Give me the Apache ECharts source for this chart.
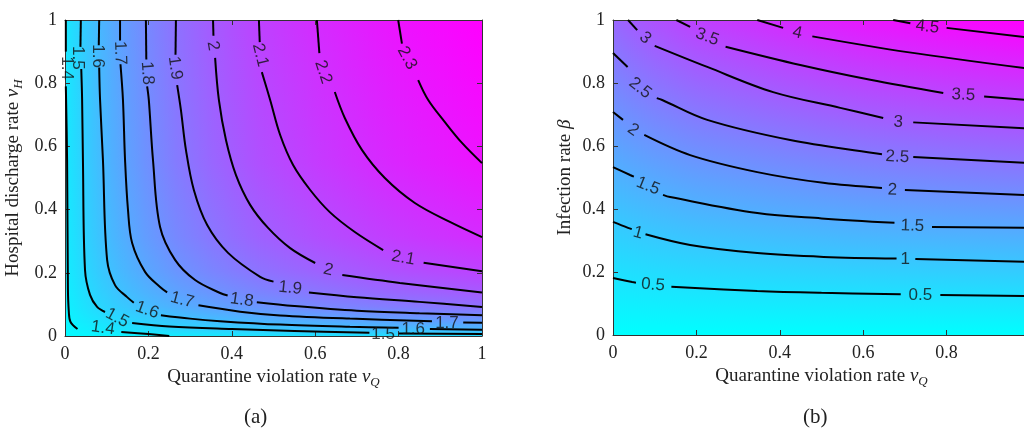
<!DOCTYPE html>
<html>
<head>
<meta charset="utf-8">
<script src="https://cdn.jsdelivr.net/npm/echarts@6/dist/echarts.min.js"></script>
<style>
  html, body { margin: 0; padding: 0; background: #fff; overflow: hidden; }
  #main { width: 1024px; height: 435px; }
</style>
</head>
<body>
<div id="main"></div>
<script>
// ---- panel (a): R0 vs quarantine violation rate / hospital discharge rate ----
// each contour = list of segments (gaps are where the inline labels sit)
var a14 = [[[0.002,1],[0.002,0.9]],
           [[0.002,0.79],[0.005,0.557],[0.007,0.15],[0.009,0.08],[0.013,0.045],[0.03,0.022]],
           [[0.135,0.013],[0.2,0.006],[0.25,0]]];
var a15 = [[[0.038,1],[0.037,0.915]],
           [[0.039,0.845],[0.041,0.75],[0.043,0.557],[0.048,0.209],[0.060,0.130],[0.077,0.092],[0.096,0.076]],
           [[0.161,0.041],[0.25,0.03],[0.4,0.022],[0.55,0.016],[0.73,0.01]],
           [[0.80,0.008],[1,0.006]]];
var a16 = [[[0.082,1],[0.081,0.92]],
           [[0.082,0.85],[0.084,0.75],[0.091,0.557],[0.101,0.241],[0.120,0.161],[0.149,0.123],[0.165,0.105]],
           [[0.23,0.066],[0.3,0.055],[0.372,0.047],[0.516,0.036],[0.683,0.029],[0.80,0.026]],
           [[0.875,0.022],[1,0.02]]];
var a17 = [[[0.132,1],[0.132,0.935]],
           [[0.133,0.86],[0.139,0.747],[0.144,0.557],[0.151,0.4],[0.161,0.294],[0.192,0.203],[0.228,0.155],[0.245,0.138]],
           [[0.32,0.097],[0.42,0.077],[0.516,0.065],[0.683,0.055],[0.88,0.047]],
           [[0.955,0.043],[1,0.042]]];
var a18 = [[[0.194,1],[0.195,0.875]],
           [[0.197,0.79],[0.201,0.747],[0.211,0.557],[0.228,0.345],[0.264,0.241],[0.312,0.177],[0.372,0.136],[0.39,0.128]],
           [[0.46,0.107],[0.55,0.095],[0.7,0.08],[0.85,0.072],[1,0.066]]];
var a19 = [[[0.266,1],[0.265,0.89]],
           [[0.269,0.794],[0.278,0.715],[0.290,0.589],[0.309,0.462],[0.341,0.351],[0.391,0.263],[0.468,0.187],[0.50,0.172]],
           [[0.585,0.138],[0.7,0.123],[0.85,0.108],[1,0.092]]];
var a20 = [[[0.355,1],[0.356,0.95]],
           [[0.360,0.880],[0.369,0.747],[0.386,0.620],[0.410,0.509],[0.444,0.415],[0.487,0.342],[0.540,0.278],[0.600,0.231]],
           [[0.665,0.193],[0.803,0.168],[1,0.138]]];
var a21 = [[[0.465,1],[0.467,0.93]],
           [[0.472,0.835],[0.492,0.747],[0.516,0.636],[0.547,0.541],[0.588,0.462],[0.635,0.392],[0.695,0.329],[0.763,0.272]],
           [[0.86,0.232],[1,0.205]]];
var a22 = [[[0.604,1],[0.61,0.895]],
           [[0.647,0.772],[0.671,0.690],[0.712,0.589],[0.767,0.5],[0.839,0.421],[0.923,0.361],[1,0.313]]];
var a23 = [[[0.799,1],[0.808,0.925]],
           [[0.847,0.810],[0.871,0.747],[0.911,0.677],[0.952,0.611],[1,0.547]]];
var aLevels = [1.4, 1.5, 1.6, 1.7, 1.8, 1.9, 2.0, 2.1, 2.2, 2.3];
var aContours = [a14, a15, a16, a17, a18, a19, a20, a21, a22, a23];
var aMin = 1.3, aMax = 2.38, aCornerBR = 1.45;   // colour range of panel (a)

// label: x, y, text, angle
var aLabels = [
  [0.003,0.848,'1.4',-90],[0.031,0.880,'1.5',-90],[0.079,0.886,'1.6',-90],[0.132,0.896,'1.7',-88],
  [0.197,0.832,'1.8',-86],[0.264,0.848,'1.9',-82],[0.355,0.918,'2',-80],[0.468,0.889,'2.1',-76],
  [0.619,0.835,'2.2',-72],[0.820,0.880,'2.3',-62],
  [0.091,0.025,'1.4',-8],[0.125,0.057,'1.5',-28],[0.197,0.082,'1.6',-20],[0.281,0.114,'1.7',-15],
  [0.424,0.114,'1.8',-8],[0.540,0.152,'1.9',-6],[0.631,0.209,'2',-14],[0.811,0.247,'2.1',-10],
  [0.763,0.006,'1.5',0],[0.835,0.022,'1.6',0],[0.916,0.041,'1.7',0]
];

// ---- panel (b): R0 vs quarantine violation rate / infection rate ----
var b05 = [[[0,0.181],[0.046,0.168],[0.055,0.166]],
           [[0.14,0.153],[0.346,0.140],[0.5,0.134],[0.69,0.129]],
           [[0.785,0.127],[1,0.124]]];
var b10 = [[[0,0.359],[0.036,0.340],[0.045,0.336]],
           [[0.078,0.32],[0.185,0.286],[0.346,0.260],[0.505,0.248],[0.68,0.243]],
           [[0.725,0.241],[1,0.232]]];
var b15 = [[[0,0.533],[0.041,0.508],[0.05,0.503]],
           [[0.12,0.445],[0.137,0.438],[0.346,0.387],[0.5,0.37],[0.675,0.356]],
           [[0.765,0.343],[1,0.34]]];
var b20 = [[[0,0.708],[0.024,0.683]],
           [[0.075,0.635],[0.185,0.571],[0.346,0.517],[0.504,0.483],[0.645,0.467]],
           [[0.7,0.460],[1,0.444]]];
var b25 = [[[0,0.895],[0.035,0.851]],
           [[0.105,0.752],[0.118,0.746],[0.226,0.683],[0.425,0.619],[0.624,0.578],[0.645,0.574]],
           [[0.72,0.565],[1,0.546]]];
var b30 = [[[0.036,1],[0.058,0.968]],
           [[0.1,0.918],[0.226,0.851],[0.384,0.771],[0.545,0.721],[0.648,0.689]],
           [[0.72,0.675],[1,0.655]]];
var b35 = [[[0.152,1],[0.185,0.978]],
           [[0.27,0.915],[0.449,0.857],[0.617,0.81],[0.792,0.768]],
           [[0.89,0.757],[1,0.745]]];
var b40 = [[[0.346,1],[0.408,0.975]],
           [[0.478,0.948],[0.706,0.898],[1,0.845]]];
var b45 = [[[0.672,1],[0.713,0.99]],
           [[0.80,0.975],[1,0.944]]];
var bContours = [b05, b10, b15, b20, b25, b30, b35, b40, b45];
var bTopRow = [[0,2.8],[0.1,3.2],[0.2,3.5],[0.4,3.9],[0.6,4.25],[0.8,4.5],[1,4.7]];
var bMax = 4.7;

var bLabels = [
  [0.096,0.159,'0.5',-5],[0.737,0.127,'0.5',0],[0.060,0.324,'1',-15],[0.701,0.241,'1',0],
  [0.084,0.473,'1.5',-22],[0.718,0.346,'1.5',-2],[0.048,0.651,'2',-35],[0.670,0.460,'2',-2],
  [0.065,0.784,'2.5',-38],[0.682,0.565,'2.5',-3],[0.077,0.943,'3',-42],[0.684,0.676,'3',-3],
  [0.226,0.946,'3.5',-20],[0.840,0.762,'3.5',-3],[0.442,0.959,'4',-12],[0.754,0.978,'4.5',-6]
];

var xTicks = [0, 0.2, 0.4, 0.6, 0.8, 1];

// ---------------------------------------------------------------
var myChart = echarts.init(document.getElementById('main'));
var CY = '0,255,255';

function cyan(alpha) {
  return 'rgba(' + CY + ',' + Math.max(0, Math.min(1, alpha)).toFixed(3) + ')';
}

// cool colormap field built as product of two profiles:
// magenta base, cyan overlay with alpha (1-P(x)), cyan overlay with alpha (1-Q(y))
function bgSeries(xi, yi, hStops, vStops) {
  return {
    type: 'custom',
    xAxisIndex: xi, yAxisIndex: yi,
    z: 0, silent: true,
    data: [[0, 0]],
    renderItem: function (params, api) {
      var p0 = api.coord([0, 1]), p1 = api.coord([1, 0]);
      var shape = { x: p0[0], y: p0[1], width: p1[0] - p0[0], height: p1[1] - p0[1] };
      return {
        type: 'group',
        children: [
          { type: 'rect', shape: shape, style: { fill: '#ff00ff' } },
          { type: 'rect', shape: shape, style: { fill: new echarts.graphic.LinearGradient(0, 0, 1, 0, hStops) } },
          { type: 'rect', shape: shape, style: { fill: new echarts.graphic.LinearGradient(0, 1, 0, 0, vStops) } }
        ]
      };
    }
  };
}

// panel (a) profiles from contour crossings of top and right edges
var aH = [{ offset: 0, color: cyan(1) }];
var aV = [{ offset: 0, color: cyan(1 - (aCornerBR - aMin) / (aMax - aMin)) }];
for (var i = 0; i < aLevels.length; i++) {
  var t = (aLevels[i] - aMin) / (aMax - aMin);
  var segs = aContours[i];
  var first = segs[0][0];
  if (first[1] >= 1) aH.push({ offset: first[0], color: cyan(1 - t) });
  var lastSeg = segs[segs.length - 1];
  var last = lastSeg[lastSeg.length - 1];
  if (last[0] >= 1 && last[1] > 0) aV.push({ offset: last[1], color: cyan(1 - t) });
}
aH.push({ offset: 1, color: cyan(0) });
aV.push({ offset: 1, color: cyan(0) });
aH.sort(function (p, q) { return p.offset - q.offset; });
aV.sort(function (p, q) { return p.offset - q.offset; });

var bH = bTopRow.map(function (d) { return { offset: d[0], color: cyan(1 - d[1] / bMax) }; });
var bV = [{ offset: 0, color: cyan(1) }, { offset: 1, color: cyan(0) }];

var series = [bgSeries(0, 0, aH, aV), bgSeries(2, 2, bH, bV)];

function addContours(list, xi, yi) {
  list.forEach(function (segs) {
    segs.forEach(function (seg) {
      series.push({
        type: 'line', xAxisIndex: xi, yAxisIndex: yi,
        data: seg, showSymbol: false, symbol: 'none', smooth: 0.35,
        silent: true, z: 3,
        lineStyle: { color: '#000', width: 2 }
      });
    });
  });
}
addContours(aContours, 0, 0);
addContours(bContours, 2, 2);

function labelSeries(list, xi, yi) {
  return {
    type: 'scatter', xAxisIndex: xi, yAxisIndex: yi,
    symbolSize: 0, silent: true, z: 4,
    data: list.map(function (l) {
      return { value: [l[0], l[1]], name: l[2], label: { rotate: l[3] } };
    }),
    label: {
      show: true, position: 'inside', formatter: '{b}',
      fontFamily: 'Liberation Sans, Arial, sans-serif', fontSize: 17, color: '#111'
    }
  };
}
series.push(labelSeries(aLabels, 0, 0));
series.push(labelSeries(bLabels, 2, 2));

var serif = 'Liberation Serif, Times New Roman, serif';
var nameRich = {
  n: { fontFamily: serif, fontSize: 19, color: '#222', lineHeight: 24 },
  i: { fontFamily: serif, fontSize: 19, fontStyle: 'italic', color: '#222', lineHeight: 24 },
  s: { fontFamily: serif, fontSize: 13, fontStyle: 'italic', color: '#222', lineHeight: 13, verticalAlign: 'bottom' }
};

function xAx(grid, name, show) {
  return {
    type: 'value', gridIndex: grid, min: 0, max: 1, interval: 0.2,
    position: show ? 'bottom' : 'top',
    name: show ? name : '', nameLocation: 'middle', nameGap: 28,
    nameTextStyle: { rich: nameRich },
    axisLine: { show: true, onZero: false, lineStyle: { color: '#333', width: 1 } },
    axisTick: { show: true, inside: true, length: 5, lineStyle: { color: '#333' } },
    axisLabel: { show: show, margin: 9, fontFamily: serif, fontSize: 18, color: '#222',
      formatter: function (v) { return xTicks.indexOf(v) >= 0 ? String(v) : ''; } },
    splitLine: { show: false }
  };
}
function yAx(grid, name, show, gap) {
  return {
    type: 'value', gridIndex: grid, min: 0, max: 1, interval: 0.2,
    position: show ? 'left' : 'right',
    name: show ? name : '', nameLocation: 'middle', nameGap: gap, nameRotate: 90,
    nameTextStyle: { rich: nameRich },
    axisLine: { show: true, onZero: false, lineStyle: { color: '#333', width: 1 } },
    axisTick: { show: true, inside: true, length: 5, lineStyle: { color: '#333' } },
    axisLabel: { show: show, margin: 8, fontFamily: serif, fontSize: 18, color: '#222' },
    splitLine: { show: false }
  };
}

var xName = '{n|Quarantine violation rate }{i|ν}{s|Q}';

var option = {
  animation: false,
  backgroundColor: '#fff',
  grid: [
    { left: 65, top: 20, right: 542, bottom: 99, containLabel: false, outerBoundsMode: 'none' },
    { left: 613, top: 20, right: -6, bottom: 100, containLabel: false, outerBoundsMode: 'none' }
  ],
  xAxis: [xAx(0, xName, true), xAx(0, '', false), xAx(1, xName, true), xAx(1, '', false)],
  yAxis: [
    yAx(0, '{n|Hospital discharge rate }{i|ν}{s|H}', true, 40), yAx(0, '', false, 0),
    yAx(1, '{n|Infection rate }{i|β}', true, 36), yAx(1, '', false, 0)
  ],
  graphic: [
    { type: 'text', left: 244, top: 407, style: { text: '(a)', font: '21px ' + serif, fill: '#222' } },
    { type: 'text', left: 803, top: 407, style: { text: '(b)', font: '21px ' + serif, fill: '#222' } }
  ],
  series: series
};

myChart.setOption(option);
</script>
</body>
</html>
